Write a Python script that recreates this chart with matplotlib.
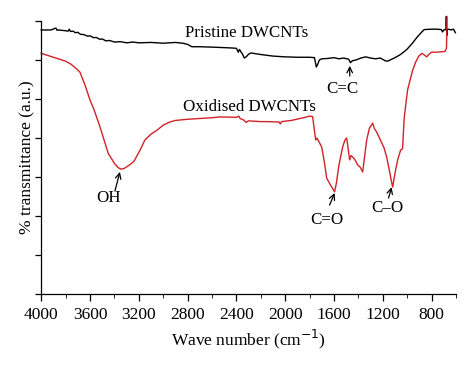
import numpy as np
import matplotlib.pyplot as plt

plt.rcParams['font.family'] = ['Liberation Serif', 'DejaVu Serif']

# Pristine DWCNTs (black)
wn_pristine = [4000, 3920, 3880, 3870, 3860, 3800, 3780, 3770, 3760, 3740, 3720, 3700,
               3680, 3650, 3620, 3600, 3570, 3550, 3520, 3500, 3470, 3440, 3400, 3350,
               3300, 3250, 3200, 3100, 3000, 2900, 2840, 2800, 2765, 2700, 2600,
               2450, 2400, 2385, 2375, 2365, 2350, 2335, 2320, 2300, 2280, 2200, 2100,
               2000, 1900, 1800, 1760, 1745, 1735, 1720, 1700, 1650, 1600, 1560, 1520,
               1480, 1465, 1450, 1420, 1380, 1340, 1300, 1260, 1220, 1180, 1160, 1140,
               1100, 1060, 1030, 1000, 960, 920, 880, 860, 800, 760, 720, 710, 700,
               682, 679, 676, 673, 660, 640, 620, 605]
tr_pristine = [6.77, 6.77, 6.82, 6.76, 6.77, 6.75, 6.74, 6.79, 6.73, 6.74, 6.70, 6.71,
               6.66, 6.65, 6.61, 6.62, 6.57, 6.58, 6.53, 6.54, 6.49, 6.50, 6.46, 6.47,
               6.44, 6.46, 6.44, 6.45, 6.43, 6.45, 6.43, 6.40, 6.34, 6.34, 6.33,
               6.31, 6.30, 6.20, 6.27, 6.22, 6.15, 6.05, 6.08, 6.15, 6.18, 6.14, 6.10,
               6.08, 6.07, 6.07, 6.06, 5.82, 5.88, 6.00, 6.03, 6.04, 6.06, 6.03, 6.05,
               6.02, 5.93, 5.98, 6.00, 6.05, 6.08, 6.05, 6.03, 6.05, 5.98, 5.97, 6.00,
               6.06, 6.13, 6.20, 6.28, 6.42, 6.58, 6.72, 6.78, 6.79, 6.79, 6.78, 6.72,
               6.77, 6.78, 7.12, 6.62, 6.78, 6.79, 6.77, 6.79, 6.70]

# Oxidised DWCNTs (red)
wn_oxidised = [4000, 3950, 3900, 3850, 3800, 3760, 3720, 3683, 3640, 3600, 3570, 3520,
               3480, 3450, 3400, 3370, 3345, 3320, 3280, 3240, 3190, 3150, 3100, 3051,
               3000, 2946, 2900, 2800, 2700, 2600, 2535, 2400, 2380, 2370, 2340,
               2320, 2300, 2250, 2200, 2150, 2050, 2040, 2030, 1950, 1850, 1800, 1775,
               1765, 1750, 1740, 1726, 1701, 1680, 1660, 1630, 1610, 1595, 1580, 1560,
               1540, 1529, 1510, 1496, 1485, 1472, 1460, 1447, 1430, 1406, 1385, 1365,
               1350, 1332, 1310, 1283, 1270, 1250, 1220, 1190, 1168, 1145, 1130, 1119,
               1100, 1078, 1054, 1038, 1025, 1010, 997, 975, 955, 930, 905, 880, 860,
               840, 820, 800, 760, 720, 690, 678, 673]
tr_oxidised = [6.17, 6.12, 6.07, 6.02, 5.97, 5.90, 5.80, 5.69, 5.35, 4.97, 4.75, 4.30,
               3.90, 3.60, 3.35, 3.24, 3.20, 3.22, 3.30, 3.40, 3.69, 3.95, 4.10, 4.20,
               4.33, 4.41, 4.45, 4.48, 4.50, 4.52, 4.54, 4.53, 4.56, 4.50, 4.46,
               4.40, 4.44, 4.43, 4.42, 4.42, 4.41, 4.36, 4.42, 4.45, 4.52, 4.56, 4.55,
               4.30, 3.95, 4.00, 3.92, 3.77, 3.40, 2.97, 2.80, 2.70, 2.62, 2.85, 3.30,
               3.60, 3.77, 3.95, 4.00, 3.75, 3.44, 3.55, 3.51, 3.45, 3.31, 3.25, 3.13,
               3.50, 3.95, 4.25, 4.38, 4.25, 4.15, 3.95, 3.75, 3.51, 3.15, 2.90, 2.74,
               3.10, 3.44, 3.69, 3.72, 4.50, 4.90, 5.23, 5.50, 5.74, 5.95, 6.10, 6.17, 6.13,
               6.08, 6.15, 6.20, 6.20, 6.21, 6.22, 6.30, 7.10]

# annotations: text, text position, arrow tail, arrow tip
labels = ['OH', 'C=O', 'C\u2013O', 'C=C']
label_pos = [(3445, 2.46), (1660, 1.90), (1161, 2.21), (1529, 5.26)]
arrow_tail = [(3396, 2.64), (1636, 2.28), (1153, 2.46), (1471, 5.59)]
arrow_tip = [(3355, 3.13), (1595, 2.59), (1128, 2.74), (1471, 5.85)]

fig = plt.figure(figsize=(4.74, 3.65), dpi=100)
ax = fig.add_axes([0.087, 0.1945, 0.875, 0.748])

ax.plot(wn_pristine, tr_pristine, color='black', lw=1.0, clip_on=False)
ax.plot(wn_oxidised, tr_oxidised, color='#d02228', lw=1.0, clip_on=False)

ax.text(2314, 6.69, 'Pristine DWCNTs', ha='center', va='center', fontsize=12.2)
ax.text(2290, 4.79, 'Oxidised DWCNTs', ha='center', va='center', fontsize=12.2)

for lab, p, tail, tip in zip(labels, label_pos, arrow_tail, arrow_tip):
    ax.text(p[0], p[1], lab, ha='center', va='center', fontsize=12.2)
    ax.annotate('', xy=tip, xytext=tail,
                arrowprops=dict(arrowstyle='->', lw=0.9, color='black',
                                shrinkA=0, shrinkB=0))

ax.set_xlim(4000, 600)
ax.set_ylim(0, 7)
ax.set_xticks(np.arange(4000, 599, -400))
ax.set_xticks(np.arange(3800, 599, -400), minor=True)
ax.set_yticks(np.arange(0, 8, 1))
ax.set_yticklabels([])
ax.tick_params(axis='both', direction='out', width=0.9, labelsize=12.5)
ax.tick_params(axis='x', which='major', length=5, pad=4)
ax.tick_params(axis='x', which='minor', length=3)
ax.tick_params(axis='y', length=4)

for s in ['top', 'right']:
    ax.spines[s].set_visible(False)
for s in ['left', 'bottom']:
    ax.spines[s].set_linewidth(0.9)

ax.set_xlabel('Wave number (cm$^{-1}$)', fontsize=12.5, labelpad=4)
ax.set_ylabel('% transmittance (a.u.)', fontsize=12.5, labelpad=-3)

fig.savefig('out.png', dpi=100)
